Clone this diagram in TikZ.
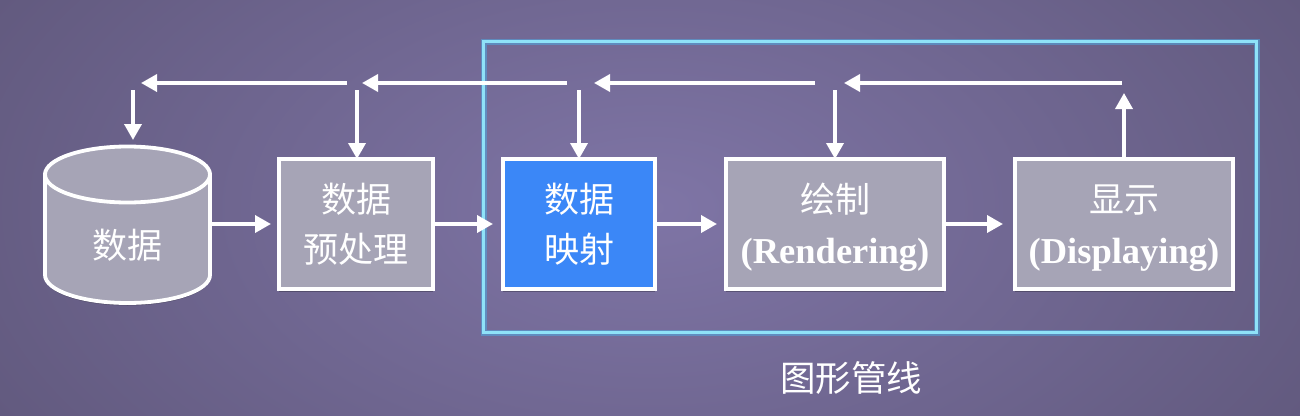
\documentclass[tikz,border=0pt]{standalone}
\usepackage{fontspec}
\setmainfont{Liberation Serif}
\newfontfamily\cjk{Noto Sans CJK SC}
\newcommand\zh[1]{{\cjk\mdseries\fontsize{35}{50}\selectfont #1}}
\newcommand\low{\rule{0pt}{37pt}}
\usetikzlibrary{arrows.meta,shadows,calc}
\definecolor{bgmid}{HTML}{7F75A6}
\definecolor{bgedge}{HTML}{60587C}
\definecolor{boxgray}{HTML}{A6A4B6}
\definecolor{boxblue}{HTML}{3B87F7}
\definecolor{framecore}{HTML}{8FE2F8}
\definecolor{frameglow}{HTML}{4FA8E0}
\tikzset{
  x=1pt,y=-1pt,
  flow/.style={draw=white,line width=3.6pt,-{Triangle[length=16pt,width=17pt]}},
  softshadow/.style={drop shadow={opacity=.25,shadow xshift=0pt,shadow yshift=-2.5pt,fill=black}},
  stagebox/.style={draw=white,line width=3.6pt,fill=boxgray,text=white,align=center,inner sep=0pt,outer sep=0pt,anchor=north west,softshadow,
    minimum height=130pt,font=\fontsize{36.5}{49.5}\selectfont\bfseries},
  framebox/.style={minimum width=773pt,minimum height=291pt,anchor=north west,inner sep=0pt,outer sep=0pt},
  caption/.style={text=white,font=\cjk\fontsize{35.5}{40}\selectfont},
}
\begin{document}
\begin{tikzpicture}
\useasboundingbox (0,0) rectangle (1300,415);
\shade[inner color=bgmid,outer color=bgedge] (-150,-250) rectangle (1450,665);
% pipeline frame
\node[framebox,draw=frameglow,opacity=.55,line width=6pt] (frameglow) at (483.5,41.5) {};
\node[framebox,draw=framecore,line width=3pt] (frame) at (483.5,41.5) {};
% data store
\draw[draw=white,line width=3.8pt,fill=boxgray,softshadow]
  (45,174.5) -- (45,275) arc[start angle=180,end angle=0,x radius=82.5,y radius=28] -- (210,174.5) -- cycle;
\draw[draw=white,line width=3.8pt,fill=boxgray] (127.5,174.5) ellipse [x radius=82.5,y radius=28];
\node[minimum width=165pt,minimum height=158pt,inner sep=0pt,outer sep=0pt,text=white] (store) at (127.5,224) {};
\node[caption,font=\cjk\fontsize{35}{40}\selectfont] (storetext) at (127.5,245) {数据};
% stages
\node[stagebox,minimum width=154pt] (pre) at (279,159) {\zh{数据}\\\zh{预处理}};
\node[stagebox,fill=boxblue,minimum width=152pt] (map) at (503,159) {\zh{数据}\\\zh{映射}};
\node[stagebox,minimum width=218pt] (ren) at (726,159) {\low\zh{绘制}\\[1.5pt](Rendering)};
\node[stagebox,minimum width=218pt] (dis) at (1015,159) {\low\zh{显示}\\[1.5pt](Displaying)};
\node[caption] (pipe) at (851,378) {图形管线};
% free ends of the feedback line
\coordinate (a1) at (1122,83); \coordinate (t1) at (844,83);
\coordinate (a2) at (815,83);  \coordinate (t2) at (594,83);
\coordinate (a3) at (567,83);  \coordinate (t3) at (362,83);
\coordinate (a4) at (347,83);  \coordinate (t4) at (141,83);
\coordinate (d1) at (133,90); \coordinate (d1t) at (133,140);
\coordinate (d2) at (357,90); \coordinate (d3) at (579,90); \coordinate (d4) at (835,90);
\coordinate (upt) at (1124,93);
% forward arrows
\draw[flow,shorten >=8pt] (store.east) -- (pre.west);
\draw[flow,shorten >=10pt] (pre.east) -- (map.west);
\draw[flow,shorten >=9pt] (map.east) -- (ren.west);
\draw[flow,shorten >=12pt] (ren.east) -- (dis.west);
% feedback
\draw[flow] (dis.north) -- (upt);
\draw[flow] (a1) -- (t1);
\draw[flow] (a2) -- (t2);
\draw[flow] (a3) -- (t3);
\draw[flow] (a4) -- (t4);
\draw[flow] (d1) -- (d1t);
\draw[flow] (d2) -- (d2 |- pre.north);
\draw[flow] (d3) -- (d3 |- map.north);
\draw[flow] (d4) -- (d4 |- ren.north);
\end{tikzpicture}
\end{document}
